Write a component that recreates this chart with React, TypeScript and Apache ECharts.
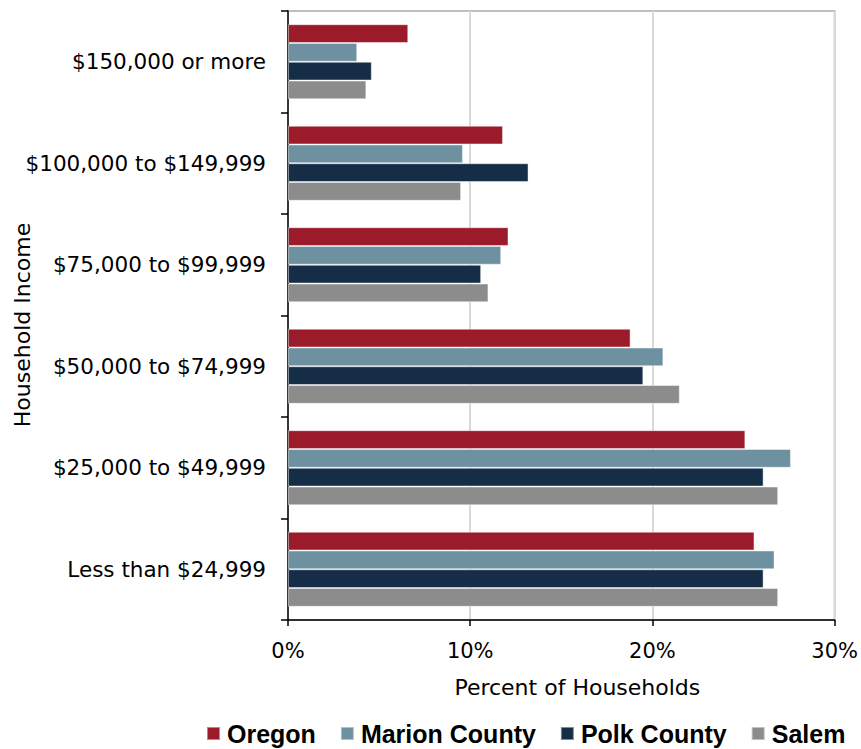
import React, { useEffect, useRef } from "react";
import * as echarts from "echarts";

const categories = [
  "$150,000 or more",
  "$100,000 to $149,999",
  "$75,000 to $99,999",
  "$50,000 to $74,999",
  "$25,000 to $49,999",
  "Less than $24,999",
];
const oregon = [6.6, 11.8, 12.1, 18.8, 25.1, 25.6];
const marion = [3.8, 9.6, 11.7, 20.6, 27.6, 26.7];
const polk = [4.6, 13.2, 10.6, 19.5, 26.1, 26.1];
const salem = [4.3, 9.5, 11.0, 21.5, 26.9, 26.9];
const xTicks = [0, 10, 20, 30];

const seriesDefs = [
  { name: "Oregon", data: oregon, color: "#9B1B2B" },
  { name: "Marion County", data: marion, color: "#6E91A1" },
  { name: "Polk County", data: polk, color: "#152D46" },
  { name: "Salem", data: salem, color: "#8C8C8C" },
];

const FONT = "'DejaVu Sans', sans-serif";

export default function App() {
  const ref = useRef<HTMLDivElement>(null);
  useEffect(() => {
    document.body.style.margin = "0";
    const chart = echarts.init(ref.current!, null, { renderer: "svg" });
    chart.setOption({
      animation: false,
      backgroundColor: "#ffffff",
      grid: {
        left: 288,
        right: 23,
        top: 11,
        bottom: 129,
        show: true,
        borderColor: "#BFBFBF",
        borderWidth: 2,
      },
      legend: {
        left: 206,
        top: 721,
        width: 655,
        padding: 0,
        itemWidth: 13,
        itemHeight: 13,
        itemGap: 24,
        icon: "rect",
        textStyle: {
          fontFamily: "'Liberation Sans', Arial, sans-serif",
          fontWeight: "bold",
          fontSize: 25,
          lineHeight: 25,
          color: "#000000",
          padding: [0, 0, 0, 2],
        },
        data: seriesDefs.map((s) => s.name),
      },
      xAxis: {
        type: "value",
        min: xTicks[0],
        max: xTicks[xTicks.length - 1],
        interval: 10,
        name: "Percent of Households",
        nameLocation: "middle",
        nameGap: 56,
        nameTextStyle: {
          fontFamily: FONT,
          fontSize: 22,
          color: "#000000",
          padding: [0, 0, 0, 32],
        },
        axisLine: { show: true, lineStyle: { color: "#000000", width: 1.5 } },
        axisTick: { show: true, length: 6, lineStyle: { color: "#000000", width: 1.5 } },
        axisLabel: {
          formatter: "{value}%",
          fontFamily: FONT,
          fontSize: 21,
          color: "#000000",
          margin: 20,
        },
        splitLine: { show: true, lineStyle: { color: "#D9D9D9", width: 2 } },
      },
      yAxis: {
        type: "category",
        data: categories,
        inverse: true,
        axisLine: { show: true, lineStyle: { color: "#000000", width: 1.5 } },
        axisTick: { show: true, length: 7, alignWithLabel: false, lineStyle: { color: "#000000", width: 1.5 } },
        axisLabel: {
          fontFamily: FONT,
          fontSize: 21.5,
          color: "#000000",
          margin: 22,
          padding: [4, 0, 0, 0],
        },
        splitLine: { show: false },
      },
      graphic: [
        {
          type: "text",
          x: 22,
          y: 325,
          rotation: Math.PI / 2,
          style: {
            text: "Household Income",
            fontFamily: FONT,
            fontSize: 22,
            fill: "#000000",
            align: "center",
            verticalAlign: "middle",
          },
        },
      ],
      series: seriesDefs.map((s) => ({
        type: "bar",
        name: s.name,
        data: s.data,
        barGap: "0%",
        barCategoryGap: "26%",
        itemStyle: {
          color: s.color,
          borderColor: "rgba(255,255,255,0.45)",
          borderWidth: 1,
        },
      })),
    });
    return () => chart.dispose();
  }, []);
  return <div ref={ref} style={{ width: 861, height: 749 }} />;
}
